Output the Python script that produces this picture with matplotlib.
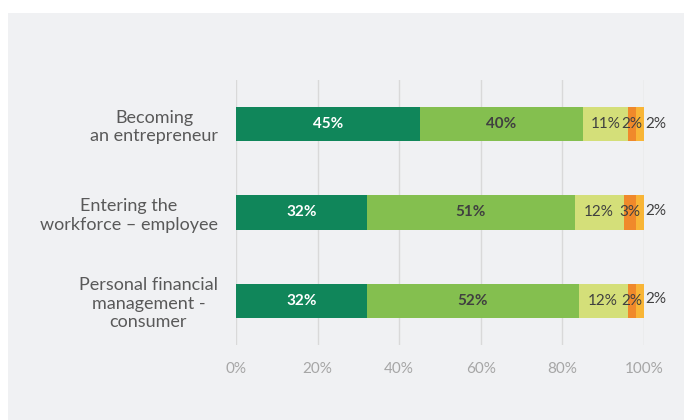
import numpy as np
import matplotlib
matplotlib.use("Agg")
import matplotlib.pyplot as plt
from matplotlib.patches import Rectangle

plt.rcParams['font.family'] = ['Lato', 'DejaVu Sans']

# Data
categories = ["Becoming\nan entrepreneur",
              "Entering the\nworkforce \u2013 employee",
              "Personal financial\nmanagement -\nconsumer"]
seg1 = [45, 32, 32]
seg2 = [40, 51, 52]
seg3 = [11, 12, 12]
seg4 = [2, 3, 2]
seg5 = [2, 2, 2]
ticks = [0, 20, 40, 60, 80, 100]

colors = ['#10865a', '#84bf4f', '#d4df79', '#f0892b', '#f8b536']
label_colors = ['white', '#404040', '#404040', '#404040', '#404040']
label_weights = ['bold', 'bold', 'normal', 'normal', 'normal']

fig = plt.figure(figsize=(6.84, 4.2), dpi=100)
fig.patch.set_facecolor('white')
# gray panel behind the chart
fig.patches.append(Rectangle((8 / 684, 0), 1, (420 - 13) / 420,
                             transform=fig.transFigure, facecolor='#f0f1f3',
                             edgecolor='none', zorder=-1))

ax = fig.add_axes([236 / 684, (420 - 345) / 420, 408 / 684, 265 / 420])
ax.set_facecolor('none')

y = np.arange(len(categories))
left = np.zeros(len(categories))
series = [seg1, seg2, seg3, seg4, seg5]
for i, vals in enumerate(series):
    vals = np.array(vals, dtype=float)
    ax.barh(y, vals, left=left, height=0.386, color=colors[i], zorder=3)
    for j, v in enumerate(vals):
        xc = left[j] + v / 2
        dy = 0
        if i == 4:
            xc = left[j] + v + 2.8
            dy = -0.02 if j > 0 else 0
        ax.text(xc, y[j] + dy, f"{int(v)}%", ha='center', va='center',
                color=label_colors[i], fontweight=label_weights[i],
                fontsize=11, zorder=4)
    left += vals

ax.set_xlim(0, 100)
ax.set_ylim(2.5, -0.5)
ax.set_xticks(ticks)
ax.set_xticklabels([f"{t}%" for t in ticks])
ax.set_yticks(y)
ax.set_yticklabels(categories, multialignment='center', linespacing=1.2)
ax.grid(axis='x', color='#d9d9d9', linewidth=1, zorder=0)
for s in ax.spines.values():
    s.set_visible(False)
ax.tick_params(axis='x', length=0, pad=12, labelsize=11, labelcolor='#a6a6a6')
ax.tick_params(axis='y', length=0, pad=13, labelsize=13, labelcolor='#595959')

fig.savefig("out.png", dpi=100, facecolor=fig.get_facecolor())
